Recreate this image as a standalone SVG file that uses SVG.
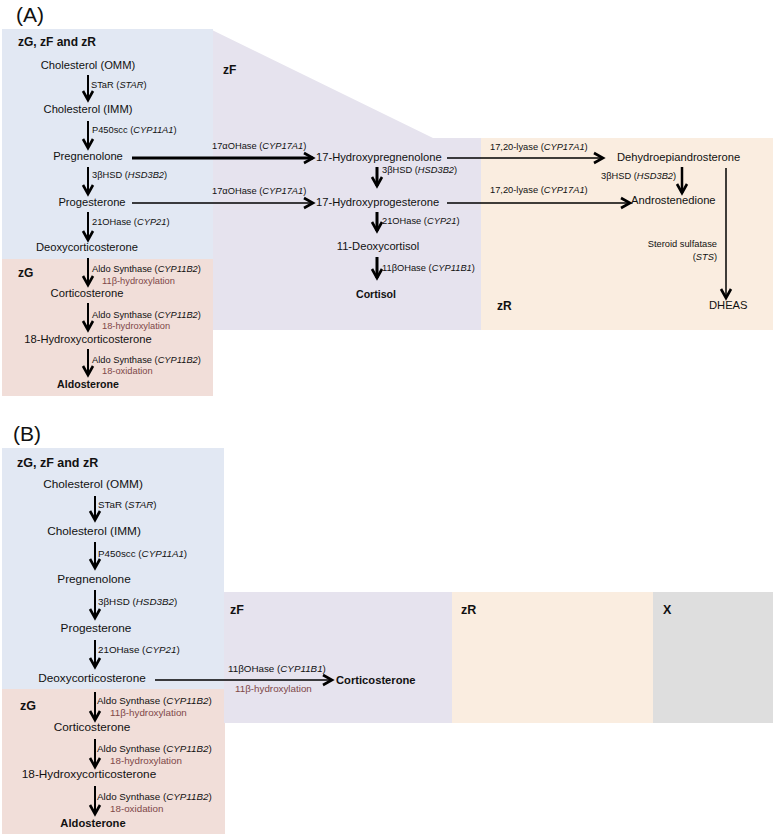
<svg xmlns="http://www.w3.org/2000/svg" width="773" height="837" viewBox="0 0 773 837">
<defs>
<style>
.t{font-family:"Liberation Sans",Arial,sans-serif;fill:#111}
.m{font-size:11.2px}
.mb{font-size:11.8px}
.e{font-size:9.3px}
.eb{font-size:9.8px}
.br{fill:#804848}
.b{font-weight:bold}
.i{font-style:italic}
.c{text-anchor:middle}
.r{text-anchor:end}
.ln{stroke:#000;fill:none;marker-end:url(#ah)}
.w1{stroke-width:1.4}
.w2{stroke-width:2}
.w3{stroke-width:3}
.blue{fill:#e2e8f3}
.pur{fill:#e6e3ee}
.pink{fill:#f1ded9}
.peach{fill:#faede0}
.grey{fill:#dedede}
</style>
<marker id="ah" markerUnits="userSpaceOnUse" markerWidth="14" markerHeight="14" viewBox="-1 -1 14 14" refX="10" refY="6" orient="auto">
<path d="M1,1 L10,6 L1,11" fill="none" stroke="#000" stroke-width="2.6"/>
</marker>
</defs>
<rect width="773" height="837" fill="#fff"/>

<!-- Panel A zones -->
<g id="A-zones">
<polygon class="pur" points="210,29 433,138 481,138 481,330 210,330"/>
<rect class="peach" x="481" y="138" width="292" height="192"/>
<rect class="blue" x="2" y="29" width="211" height="231"/>
<rect class="pink" x="2" y="259" width="211" height="137"/>
</g>
<text class="t" x="16" y="22" style="font-size:21px">(A)</text>
<g id="A-zone-labels">
<text class="t b" x="18" y="46" style="font-size:12px">zG, zF and zR</text>
<text class="t b" x="223" y="74" style="font-size:12px">zF</text>
<text class="t b" x="18" y="277" style="font-size:12px">zG</text>
<text class="t b" x="497" y="310" style="font-size:12px">zR</text>
</g>

<!-- Panel A nodes -->
<g id="A-chol-omm"><text class="t m c" x="88" y="69">Cholesterol (OMM)</text></g>
<g id="A-chol-imm"><text class="t m c" x="88" y="113">Cholesterol (IMM)</text></g>
<g id="A-preg"><text class="t m c" x="88" y="160">Pregnenolone</text></g>
<g id="A-prog"><text class="t m c" x="92" y="206">Progesterone</text></g>
<g id="A-doc"><text class="t m c" x="87" y="251">Deoxycorticosterone</text></g>
<g id="A-cort"><text class="t m c" x="87" y="297">Corticosterone</text></g>
<g id="A-18oh"><text class="t m c" x="88" y="343">18-Hydroxycorticosterone</text></g>
<g id="A-aldo"><text class="t b c" x="88" y="388" style="font-size:10.6px">Aldosterone</text></g>
<g id="A-17ohpreg"><text class="t m" x="316" y="161">17-Hydroxypregnenolone</text></g>
<g id="A-17ohprog"><text class="t m" x="316" y="206">17-Hydroxyprogesterone</text></g>
<g id="A-11doc"><text class="t m c" x="378" y="250">11-Deoxycortisol</text></g>
<g id="A-cortisol"><text class="t b c" x="376" y="298" style="font-size:10.6px">Cortisol</text></g>
<g id="A-dhea"><text class="t m" x="617" y="161">Dehydroepiandrosterone</text></g>
<g id="A-andro"><text class="t m" x="631" y="204">Androstenedione</text></g>
<g id="A-dheas"><text class="t m" x="709" y="309">DHEAS</text></g>

<!-- Panel A connectors -->
<g id="A-connectors">
<line class="ln w2" x1="88" y1="75" x2="88" y2="100"/>
<line class="ln w2" x1="88" y1="121" x2="88" y2="148"/>
<line class="ln w2" x1="88" y1="167" x2="88" y2="194"/>
<line class="ln w2" x1="88" y1="212" x2="88" y2="240"/>
<line class="ln w2" x1="88" y1="258" x2="88" y2="285"/>
<line class="ln w2" x1="88" y1="303" x2="88" y2="330"/>
<line class="ln w2" x1="88" y1="349" x2="88" y2="375"/>
<line class="ln w3" x1="132" y1="158" x2="313" y2="158"/>
<line class="ln w1" x1="132" y1="203" x2="313" y2="203"/>
<line class="ln w3" x1="377" y1="167" x2="377" y2="186"/>
<line class="ln w3" x1="377" y1="212" x2="377" y2="231"/>
<line class="ln w3" x1="377" y1="257" x2="377" y2="278"/>
<line class="ln w1" x1="447" y1="158" x2="603" y2="158"/>
<line class="ln w1" x1="447" y1="203" x2="630" y2="203"/>
<line class="ln" style="stroke-width:2.5" x1="682" y1="167" x2="682" y2="193"/>
<line class="ln" style="stroke-width:1.5" x1="726" y1="168" x2="726" y2="298"/>
<text class="t e" x="91" y="88">STaR (<tspan class="i">STAR</tspan>)</text>
<text class="t e" x="92" y="133">P450scc (<tspan class="i">CYP11A1</tspan>)</text>
<text class="t e" x="92" y="178">3βHSD (<tspan class="i">HSD3B2</tspan>)</text>
<text class="t e" x="92" y="225">21OHase (<tspan class="i">CYP21</tspan>)</text>
<text class="t e" x="92" y="272">Aldo Synthase (<tspan class="i">CYP11B2</tspan>)</text>
<text class="t e br" x="102" y="284">11β-hydroxylation</text>
<text class="t e" x="92" y="318">Aldo Synthase (<tspan class="i">CYP11B2</tspan>)</text>
<text class="t e br" x="102" y="329">18-hydroxylation</text>
<text class="t e" x="92" y="363">Aldo Synthase (<tspan class="i">CYP11B2</tspan>)</text>
<text class="t e br" x="102" y="374">18-oxidation</text>
<text class="t e" x="212" y="149">17αOHase (<tspan class="i">CYP17A1</tspan>)</text>
<text class="t e" x="212" y="194">17αOHase (<tspan class="i">CYP17A1</tspan>)</text>
<text class="t e" x="382" y="173">3βHSD (<tspan class="i">HSD3B2</tspan>)</text>
<text class="t e" x="382" y="224">21OHase (<tspan class="i">CYP21</tspan>)</text>
<text class="t e" x="382" y="271">11βOHase (<tspan class="i">CYP11B1</tspan>)</text>
<text class="t e" x="490" y="150">17,20-lyase (<tspan class="i">CYP17A1</tspan>)</text>
<text class="t e" x="490" y="193">17,20-lyase (<tspan class="i">CYP17A1</tspan>)</text>
<text class="t e" x="601" y="179">3βHSD (<tspan class="i">HSD3B2</tspan>)</text>
<text class="t e r" x="717" y="247">Steroid sulfatase</text>
<text class="t e r" x="717" y="260">(<tspan class="i">STS</tspan>)</text>
</g>

<!-- Panel B zones -->
<g id="B-zones">
<rect class="blue" x="2" y="448" width="222" height="242"/>
<rect class="pink" x="2" y="689" width="223" height="145"/>
<rect class="pur" x="224" y="592" width="228" height="131"/>
<rect class="peach" x="452" y="592" width="201" height="131"/>
<rect class="grey" x="653" y="592" width="120" height="131"/>
</g>
<text class="t" x="13" y="441" style="font-size:21px">(B)</text>
<g id="B-zone-labels">
<text class="t b" x="17" y="467" style="font-size:12.5px">zG, zF and zR</text>
<text class="t b" x="230" y="614" style="font-size:12.5px">zF</text>
<text class="t b" x="461" y="614" style="font-size:12.5px">zR</text>
<text class="t b" x="663" y="614" style="font-size:12.5px">X</text>
<text class="t b" x="20" y="710" style="font-size:12.5px">zG</text>
</g>

<!-- Panel B nodes -->
<g id="B-chol-omm"><text class="t mb c" x="93" y="488">Cholesterol (OMM)</text></g>
<g id="B-chol-imm"><text class="t mb c" x="94" y="535">Cholesterol (IMM)</text></g>
<g id="B-preg"><text class="t mb c" x="94" y="583">Pregnenolone</text></g>
<g id="B-prog"><text class="t mb c" x="96" y="632">Progesterone</text></g>
<g id="B-doc"><text class="t mb c" x="92" y="682">Deoxycorticosterone</text></g>
<g id="B-cort"><text class="t mb c" x="92" y="731">Corticosterone</text></g>
<g id="B-18oh"><text class="t mb c" x="89" y="778">18-Hydroxycorticosterone</text></g>
<g id="B-aldo"><text class="t b c" x="93" y="827" style="font-size:11.2px">Aldosterone</text></g>
<g id="B-cort-zf"><text class="t b" x="336" y="684" style="font-size:11.2px">Corticosterone</text></g>

<!-- Panel B connectors -->
<g id="B-connectors">
<line class="ln w2" x1="95" y1="496" x2="95" y2="520"/>
<line class="ln w2" x1="95" y1="542" x2="95" y2="568"/>
<line class="ln w2" x1="95" y1="590" x2="95" y2="618"/>
<line class="ln w2" x1="95" y1="640" x2="95" y2="667"/>
<line class="ln w2" x1="95" y1="692" x2="95" y2="720"/>
<line class="ln w2" x1="95" y1="739" x2="95" y2="767"/>
<line class="ln w2" x1="95" y1="786" x2="95" y2="814"/>
<line class="ln w1" x1="155" y1="680" x2="332" y2="680"/>
<text class="t eb" x="98" y="508">STaR (<tspan class="i">STAR</tspan>)</text>
<text class="t eb" x="98" y="557">P450scc (<tspan class="i">CYP11A1</tspan>)</text>
<text class="t eb" x="98" y="605">3βHSD (<tspan class="i">HSD3B2</tspan>)</text>
<text class="t eb" x="98" y="653">21OHase (<tspan class="i">CYP21</tspan>)</text>
<text class="t eb" x="97" y="704">Aldo Synthase (<tspan class="i">CYP11B2</tspan>)</text>
<text class="t eb br" x="110" y="716">11β-hydroxylation</text>
<text class="t eb" x="97" y="752">Aldo Synthase (<tspan class="i">CYP11B2</tspan>)</text>
<text class="t eb br" x="110" y="764">18-hydroxylation</text>
<text class="t eb" x="97" y="800">Aldo Synthase (<tspan class="i">CYP11B2</tspan>)</text>
<text class="t eb br" x="110" y="812">18-oxidation</text>
<text class="t eb" x="228" y="672">11βOHase (<tspan class="i">CYP11B1</tspan>)</text>
<text class="t eb br" x="235" y="692">11β-hydroxylation</text>
</g>
</svg>
